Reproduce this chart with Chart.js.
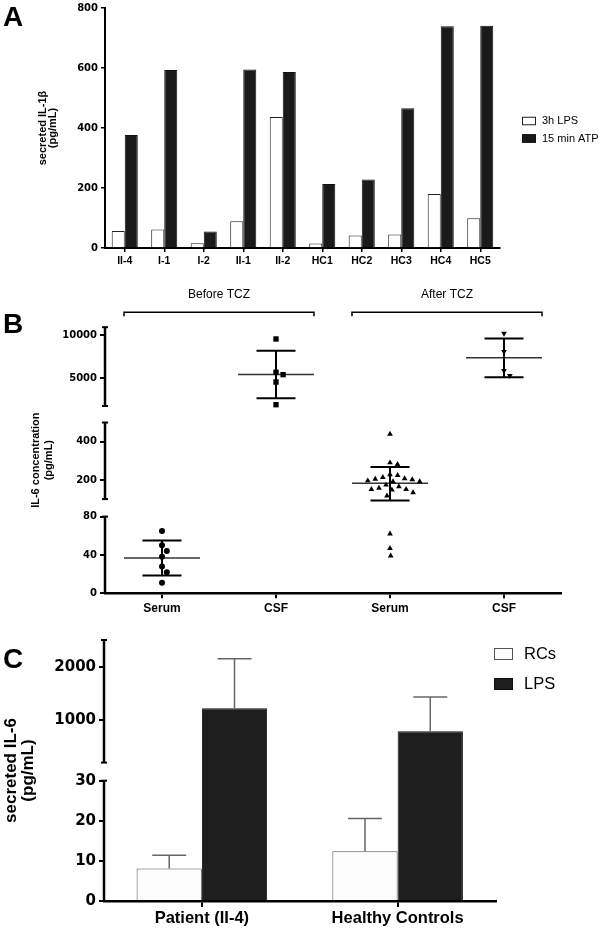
<!DOCTYPE html>
<html>
<head>
<meta charset="utf-8">
<script src="https://cdn.jsdelivr.net/npm/chart.js@4.4.1/dist/chart.umd.min.js"></script>
<style>
  html, body { margin: 0; padding: 0; background: #fff; }
  #page { position: relative; width: 600px; height: 930px; overflow: hidden; }
  .panel { position: absolute; left: 0; width: 600px; }
</style>
</head>
<body>
<div id="page">
  <div class="panel" style="top:0;height:270px"><canvas id="chartA"></canvas></div>
  <div class="panel" style="top:280px;height:340px"><canvas id="chartB"></canvas></div>
  <div class="panel" style="top:615px;height:315px"><canvas id="chartC"></canvas></div>
</div>
<script>
// ---- panel A: IL-1beta per subject
const subjectsA = ['II-4', 'I-1', 'I-2', 'II-1', 'II-2', 'HC1', 'HC2', 'HC3', 'HC4', 'HC5'];
const lps3h = [57, 62, 16, 89, 437, 15, 42, 45, 180, 99];
const atp15min = [377, 593, 55, 595, 587, 213, 228, 466, 739, 741];

// ---- panel B: IL-6 before / after TCZ
const groupsB = ['Serum', 'CSF', 'Serum', 'CSF'];
const phasesB = ['Before TCZ', 'After TCZ'];
const serumBefore = [65, 50, 44, 38, 28, 22, 11];
const csfBefore = [9540, 5700, 5420, 4570, 1950];
const serumAfter = [440, 290, 282, 228, 224, 214, 207, 205, 202, 196, 191, 191, 174, 165, 158, 151, 151, 148, 134, 117, 62, 47, 39];
const csfAfter = [10190, 8070, 5880, 5300];
const ticksB = [0, 40, 80, 200, 400, 5000, 10000];

// ---- panel C: secreted IL-6, mean + error
const groupsC = ['Patient (II-4)', 'Healthy Controls'];
const rcsMean = [8.1, 12.4];
const rcsErr = [3.3, 8.2];
const lpsMean = [1220, 788];
const lpsErr = [930, 643];
const ticksC = [0, 10, 20, 30, 1000, 2000];

const SANS = "'Liberation Sans', Arial, sans-serif";
const NUM = "'DejaVu Sans', sans-serif";
Chart.defaults.font.family = SANS;
Chart.defaults.color = '#000';
Chart.defaults.animation = false;
Chart.defaults.events = [];

// broken axis: every piece puts a value range on a stretch of the axis (px above the x axis)
function brokenAxis(pieces) {
  return function (v) {
    for (let i = 0; i < pieces.length; i++) {
      const p = pieces[i];
      if (v <= p.hi || i === pieces.length - 1) {
        if (v >= p.lo || i === 0) return p.from + (v - p.lo) / (p.hi - p.lo) * (p.to - p.from);
        const q = pieces[i - 1];
        return q.to + (v - q.hi) / (p.lo - q.hi) * (p.from - q.to);
      }
    }
  };
}
const piecesB = [
  { lo: 0, hi: 80, from: 0, to: 76.7 },
  { lo: 100, hi: 500, from: 94.2, to: 170.8 },
  { lo: 1800, hi: 10900, from: 187.3, to: 266.1 }
];
const piecesC = [
  { lo: 0, hi: 30, from: 0, to: 120.3 },
  { lo: 200, hi: 2500, from: 138.4, to: 261 }
];
const mapB = brokenAxis(piecesB);
const mapC = brokenAxis(piecesC);

const fixWidth = w => scale => { scale.width = w; };
const fixHeight = h => scale => { scale.height = h; };

function line(ctx, x1, y1, x2, y2) {
  ctx.beginPath(); ctx.moveTo(x1, y1); ctx.lineTo(x2, y2); ctx.stroke();
}

const panelLetter = {
  id: 'panelLetter',
  afterDraw(chart, args, o) {
    const ctx = chart.ctx;
    ctx.save();
    ctx.font = 'bold 28px ' + SANS;
    ctx.fillStyle = '#000';
    ctx.fillText(o.text, o.x, o.y);
    ctx.restore();
  }
};

const boxLegend = {
  id: 'boxLegend',
  afterDraw(chart, args, o) {
    const ctx = chart.ctx;
    ctx.save();
    ctx.font = o.size + 'px ' + SANS;
    ctx.textBaseline = 'middle';
    chart.data.datasets.forEach((ds, i) => {
      const y = o.y + i * o.gap;
      ctx.fillStyle = ds.backgroundColor;
      ctx.fillRect(o.x, y - o.h / 2, o.w, o.h);
      ctx.strokeStyle = ds.borderColor;
      ctx.lineWidth = 1;
      ctx.strokeRect(o.x + 0.5, y - o.h / 2 + 0.5, o.w - 1, o.h - 1);
      ctx.fillStyle = '#000';
      ctx.fillText(ds.label, o.x + o.w + o.pad, y);
    });
    ctx.restore();
  }
};

const axisBreaks = {
  id: 'axisBreaks',
  afterDraw(chart, args, o) {
    const { ctx, chartArea, scales: { y } } = chart;
    const x = chartArea.left;
    ctx.save();
    ctx.strokeStyle = '#000';
    ctx.lineWidth = 2.5;
    o.pieces.forEach(p => {
      const top = y.getPixelForValue(p.to), bot = y.getPixelForValue(p.from);
      line(ctx, x, top, x, bot);
      ctx.lineWidth = 2;
      line(ctx, x - 3, top, x + 3, top);
      if (p.from > 0) line(ctx, x - 3, bot, x + 3, bot);
      ctx.lineWidth = 2.5;
    });
    ctx.restore();
  }
};

const meanSd = {
  id: 'meanSd',
  beforeDatasetsDraw(chart, args, o) {
    const { ctx, scales: { x, y } } = chart;
    ctx.save();
    chart.data.datasets.forEach((ds, i) => {
      const v = ds.values, n = v.length;
      const m = v.reduce((a, b) => a + b, 0) / n;
      const sd = Math.sqrt(v.reduce((a, b) => a + (b - m) * (b - m), 0) / (n - 1));
      const cx = x.getPixelForValue(i);
      const py = val => y.getPixelForValue(mapB(val));
      ctx.strokeStyle = '#333';
      ctx.lineWidth = 1.5;
      line(ctx, cx - o.meanHalf, py(m), cx + o.meanHalf, py(m));
      ctx.strokeStyle = '#000';
      ctx.lineWidth = 2;
      line(ctx, cx, py(m + sd), cx, py(m - sd));
      line(ctx, cx - o.capHalf, py(m + sd), cx + o.capHalf, py(m + sd));
      line(ctx, cx - o.capHalf, py(m - sd), cx + o.capHalf, py(m - sd));
    });
    ctx.restore();
  }
};

const brackets = {
  id: 'brackets',
  afterDraw(chart, args, o) {
    const { ctx, scales: { x } } = chart;
    ctx.save();
    ctx.strokeStyle = '#000';
    ctx.lineWidth = 1.5;
    ctx.fillStyle = '#000';
    ctx.font = '12px ' + SANS;
    ctx.textAlign = 'center';
    ctx.textBaseline = 'middle';
    phasesB.forEach((label, k) => {
      const x1 = x.getPixelForValue(2 * k) - o.half;
      const x2 = x.getPixelForValue(2 * k + 1) + o.half;
      ctx.beginPath();
      ctx.moveTo(x1, o.y + o.tick); ctx.lineTo(x1, o.y); ctx.lineTo(x2, o.y); ctx.lineTo(x2, o.y + o.tick);
      ctx.stroke();
      ctx.fillText(label, (x1 + x2) / 2, o.textY);
    });
    ctx.restore();
  }
};

const errorBars = {
  id: 'errorBars',
  afterDatasetsDraw(chart, args, o) {
    const { ctx, scales: { y } } = chart;
    ctx.save();
    ctx.strokeStyle = '#666';
    ctx.lineWidth = 1.5;
    chart.data.datasets.forEach((ds, di) => {
      chart.getDatasetMeta(di).data.forEach((bar, i) => {
        const top = y.getPixelForValue(mapC(ds.values[i] + ds.errors[i]));
        line(ctx, bar.x, bar.y, bar.x, top);
        line(ctx, bar.x - o.cap, top, bar.x + o.cap, top);
      });
    });
    ctx.restore();
  }
};

function swarm(values, toY, d) {
  const placed = [];
  const out = new Array(values.length).fill(0);
  const order = values.map((v, i) => i).sort((a, b) => values[b] - values[a]);
  order.forEach(i => {
    const y = toY(values[i]);
    const cands = [0];
    placed.forEach(p => {
      const dy = Math.abs(p.y - y);
      if (dy < d) {
        const dx = Math.sqrt(d * d - dy * dy);
        cands.push(p.x + dx, p.x - dx);
      }
    });
    cands.sort((a, b) => Math.abs(a) - Math.abs(b) || b - a);
    const x = cands.find(c => placed.every(p => (p.x - c) ** 2 + (p.y - y) ** 2 >= d * d - 0.01));
    placed.push({ x, y });
    out[i] = x;
  });
  return out;
}

function tickGrid(len, w) {
  return { display: true, drawOnChartArea: false, drawTicks: true, tickLength: len, color: '#000', lineWidth: w };
}

// ================= A =================
new Chart(document.getElementById('chartA'), {
  type: 'bar',
  data: {
    labels: subjectsA,
    datasets: [
      { label: '3h LPS', data: lps3h, backgroundColor: '#ffffff', borderColor: '#222', borderWidth: 1 },
      { label: '15 min ATP', data: atp15min, backgroundColor: '#1a1a1a', borderColor: '#111', borderWidth: 1 }
    ]
  },
  options: {
    responsive: true,
    maintainAspectRatio: false,
    categoryPercentage: 0.66,
    barPercentage: 1,
    layout: { padding: { left: 0, right: 100, top: 5, bottom: 0 } },
    plugins: {
      legend: { display: false },
      tooltip: { enabled: false },
      panelLetter: { text: 'A', x: 3, y: 26 },
      boxLegend: { x: 522, y: 121, w: 14, h: 8.5, gap: 17.5, pad: 6, size: 11 }
    },
    scales: {
      x: {
        grid: Object.assign(tickGrid(4, 1.5), { offset: false }),
        border: { color: '#000', width: 2 },
        ticks: { font: { family: SANS, weight: 'bold', size: 10.5 }, padding: 3, maxRotation: 0, autoSkip: false },
        afterFit: fixHeight(22)
      },
      y: {
        min: 0, max: 800,
        grid: tickGrid(4, 1.5),
        border: { color: '#000', width: 2 },
        ticks: { stepSize: 200, font: { family: NUM, weight: 'bold', size: 10, lineHeight: 1 }, padding: 3 },
        title: {
          display: true, text: ['secreted IL-1β', '(pg/mL)'],
          font: { family: SANS, weight: 'bold', size: 11, lineHeight: 0.9 },
          padding: { top: 38.5, bottom: 0 }
        },
        afterFit: fixWidth(105)
      }
    }
  },
  plugins: [panelLetter, boxLegend]
});

// ================= B =================
const setsB = [
  { values: serumBefore, pointStyle: 'circle', pointRadius: 3, rot: 0, spread: 7.5 },
  { values: csfBefore, pointStyle: 'rect', pointRadius: 3.8, rot: 0, spread: 7.5 },
  { values: serumAfter, pointStyle: 'triangle', pointRadius: 3.3, rot: 0, spread: 7.7 },
  { values: csfAfter, pointStyle: 'triangle', pointRadius: 3.3, rot: 180, spread: 7.7 }
];
const chartB = new Chart(document.getElementById('chartB'), {
  type: 'scatter',
  data: {
    datasets: setsB.map((s, i) => ({
      values: s.values,
      spread: s.spread,
      data: s.values.map(v => ({ x: i, y: mapB(v) })),
      pointStyle: s.pointStyle,
      pointRadius: s.pointRadius,
      pointRotation: s.rot,
      backgroundColor: '#000',
      borderColor: '#000',
      borderWidth: 0,
      clip: false
    }))
  },
  options: {
    responsive: true,
    maintainAspectRatio: false,
    layout: { padding: { left: 0, right: 39, top: 47, bottom: 0 } },
    plugins: {
      legend: { display: false },
      tooltip: { enabled: false },
      panelLetter: { text: 'B', x: 3, y: 53 },
      axisBreaks: { pieces: piecesB },
      meanSd: { meanHalf: 38, capHalf: 19.5 },
      brackets: { half: 38, y: 32.3, tick: 4, textY: 15 }
    },
    scales: {
      x: {
        type: 'linear', min: -0.5, max: 3.5,
        afterBuildTicks: scale => { scale.ticks = groupsB.map((g, i) => ({ value: i })); },
        grid: tickGrid(5, 2),
        border: { color: '#000', width: 2.5 },
        ticks: { callback: (v, i) => groupsB[i], font: { family: SANS, weight: 'bold', size: 12 }, padding: 3, maxRotation: 0, autoSkip: false },
        afterFit: fixHeight(26.7)
      },
      y: {
        min: 0, max: 266.3,
        afterBuildTicks: scale => { scale.ticks = ticksB.map(v => ({ value: mapB(v) })); },
        grid: tickGrid(5, 2),
        border: { display: false },
        ticks: { callback: (v, i) => String(ticksB[i]), font: { family: NUM, weight: 'bold', size: 10 }, padding: 3, autoSkip: false },
        title: {
          display: true, text: ['IL-6 concentration', '(pg/mL)'],
          font: { family: SANS, weight: 'bold', size: 11, lineHeight: 1.15 },
          padding: { top: 29.7, bottom: 0 }
        },
        afterFit: fixWidth(105)
      }
    }
  },
  plugins: [panelLetter, axisBreaks, meanSd, brackets]
});

// spread the dots of each group sideways so they do not overlap
(function () {
  const xs = chartB.scales.x, ys = chartB.scales.y;
  const pxPerX = xs.getPixelForValue(1) - xs.getPixelForValue(0);
  chartB.data.datasets.forEach((ds, i) => {
    const offs = swarm(ds.values, v => ys.getPixelForValue(mapB(v)), ds.spread);
    ds.data = ds.values.map((v, k) => ({ x: i + offs[k] / pxPerX, y: mapB(v) }));
  });
  chartB.update();
})();

// ================= C =================
new Chart(document.getElementById('chartC'), {
  type: 'bar',
  data: {
    labels: groupsC,
    datasets: [
      { label: 'RCs', values: rcsMean, errors: rcsErr, data: rcsMean.map(mapC), backgroundColor: '#fcfcfc', borderColor: '#555', borderWidth: 1 },
      { label: 'LPS', values: lpsMean, errors: lpsErr, data: lpsMean.map(mapC), backgroundColor: '#1e1e1e', borderColor: '#111', borderWidth: 1 }
    ]
  },
  options: {
    responsive: true,
    maintainAspectRatio: false,
    categoryPercentage: 0.667,
    barPercentage: 1,
    layout: { padding: { left: 0, right: 104.5, top: 25, bottom: 0 } },
    plugins: {
      legend: { display: false },
      tooltip: { enabled: false },
      panelLetter: { text: 'C', x: 3, y: 53 },
      boxLegend: { x: 494, y: 39, w: 19, h: 12, gap: 30, pad: 11, size: 16.5 },
      axisBreaks: { pieces: piecesC },
      errorBars: { cap: 17 }
    },
    scales: {
      x: {
        grid: Object.assign(tickGrid(6, 2), { offset: false }),
        border: { color: '#000', width: 2.5 },
        ticks: { font: { family: SANS, weight: 'bold', size: 16.5 }, padding: 2, maxRotation: 0, autoSkip: false },
        afterFit: fixHeight(29)
      },
      y: {
        min: 0, max: 261,
        afterBuildTicks: scale => { scale.ticks = ticksC.map(v => ({ value: mapC(v) })); },
        grid: tickGrid(5, 2),
        border: { display: false },
        ticks: { callback: (v, i) => String(ticksC[i]), font: { family: NUM, weight: 'bold', size: 15 }, padding: 3, autoSkip: false },
        title: {
          display: true, text: ['secreted IL-6', '(pg/mL)'],
          font: { family: SANS, weight: 'bold', size: 17, lineHeight: 1 },
          padding: { top: 3, bottom: 0 }
        },
        afterFit: fixWidth(104)
      }
    }
  },
  plugins: [panelLetter, boxLegend, axisBreaks, errorBars]
});
</script>
</body>
</html>
